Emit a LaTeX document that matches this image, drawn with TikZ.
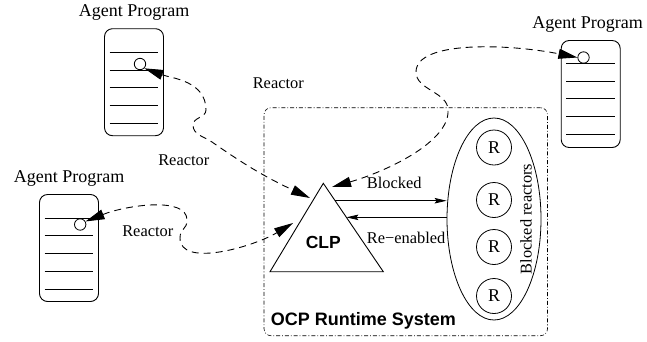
\documentclass[tikz,border=0pt]{standalone}
\usepackage{fontspec}
\setmainfont{Liberation Serif}
\setsansfont{Liberation Sans}
\usetikzlibrary{arrows.meta,shapes.geometric,calc}

\begin{document}
\begin{tikzpicture}[x=1pt,y=1pt,
  agentbox/.style={draw, line width=0.9pt, rounded corners=8pt,
    minimum width=59pt, minimum height=107pt, inner sep=0pt},
  slot/.style={line width=0.8pt},
  hole/.style={circle, draw, line width=0.8pt, minimum size=11.4pt, inner sep=0pt},
  lbl/.style={inner sep=0pt, anchor=base, font=\fontsize{16.4}{18}\selectfont},
  agentname/.style={inner sep=0pt, anchor=base, font=\fontsize{18}{20}\selectfont},
  boldsans/.style={inner sep=0pt, anchor=base, font=\sffamily\bfseries\fontsize{18}{20}\selectfont},
  reactor/.style={circle, draw, line width=0.8pt, minimum size=35pt, inner sep=0pt,
    font=\fontsize{18}{20}\selectfont},
  link/.style={line width=0.9pt, dash pattern=on 7pt off 5pt,
    {Triangle[length=19pt,width=10pt]}-{Triangle[length=19pt,width=10pt]}},
  flow/.style={line width=0.8pt, -{Stealth[length=12pt,width=5.5pt,inset=2pt]}},
  runtime/.style={draw, line width=0.6pt, rounded corners=7pt,
    dash pattern=on 4pt off 2pt on 0.8pt off 2pt, inner sep=0pt}
]
\useasboundingbox (0,0) rectangle (647,-341);

% --- runtime system frame ---
\node[runtime, minimum width=283.5pt, minimum height=228pt] (ocp) at (405.75,-221.7) {};
\node[boldsans, anchor=base west] (ocpname) at (270.7,-325) {OCP Runtime System};

% --- constraint logic program (triangle) ---
\coordinate (tA) at (323.3,-183.3);
\coordinate (tL) at (270,-271.7);
\coordinate (tR) at (383.3,-271.7);
\draw[line width=0.9pt] (tA) -- (tR) -- (tL) -- cycle;
\node[boldsans, font=\sffamily\bfseries\fontsize{17.5}{20}\selectfont] (clp) at (323.3,-248.3) {CLP};

% --- pool of blocked reactors ---
\node[draw, ellipse, line width=0.8pt, minimum width=94pt, minimum height=202pt,
  inner sep=0pt] (pool) at (494,-219) {};
\node[reactor] (r1) at (494,-147.5) {R};
\node[reactor] (r2) at (494,-200) {R};
\node[reactor] (r3) at (494,-247) {R};
\node[reactor] (r4) at (494,-296) {R};
\node[lbl, anchor=center, rotate=90] (poolname) at (526,-219) {Blocked reactors};

% --- blocking and re-enabling ---
\coordinate (outB) at ($(tA)!0.197!(tR)$);
\coordinate (inR) at ($(tA)!0.385!(tR)$);
\draw[flow] (outB) -- (outB -| pool.west);
\draw[flow] (inR -| pool.west) -- (inR);
\node[lbl] (blk) at (394.2,-188.3) {Blocked};
\node[lbl, anchor=base west] (ren) at (366.7,-243) {Re−enabled};

% --- agent programs ---
\node[agentname] (n1) at (134.2,-16.5) {Agent Program};
\node[agentbox] (a1) at (134,-82.2) {};
\foreach \d in {24,41.75,59.5,77.25,95}
  \draw[slot] ([xshift=5.5pt,yshift=-\d pt]a1.north west) -- ([xshift=-5.5pt,yshift=-\d pt]a1.north east);
\node[hole] (h1) at (140,-64) {};

\node[agentname] (n2) at (69.2,-182.7) {Agent Program};
\node[agentbox] (a2) at (69,-248) {};
\foreach \d in {24,41.75,59.5,77.25,95}
  \draw[slot] ([xshift=5.5pt,yshift=-\d pt]a2.north west) -- ([xshift=-5.5pt,yshift=-\d pt]a2.north east);
\node[hole] (h2) at (80.2,-224.5) {};

\node[agentname] (n3) at (587.5,-28.5) {Agent Program};
\node[agentbox] (a3) at (590.7,-94) {};
\foreach \d in {23.3,41,58.6,76.6,94.3}
  \draw[slot] ([xshift=5.5pt,yshift=-\d pt]a3.north west) -- ([xshift=-5.5pt,yshift=-\d pt]a3.north east);
\node[hole] (h3) at (583.5,-57.5) {};

% --- reactor links between agents and the CLP ---
\coordinate (inA) at (310,-198);
\coordinate (inB) at (332,-187);
\coordinate (inC) at (293,-223);

\draw[link] (h1.-45) to[out=-20,in=90] (206,-110)
  .. controls +(0,-7.75) and +(0,7.75) .. (193,-125)
  .. controls +(0,-10) and +(-8.2,5.7) .. (212,-142)
  to[out=-35,in=155] (inA);

\draw[link] (inB) .. controls +(53,15) and +(2,-32) .. (448,-110)
  .. controls +(0,18) and +(0,-18) .. (416,-72)
  .. controls +(0,32) and +(-67.8,13.5) .. (h3.west);

\draw[link] (h2.30) .. controls +(40,16) and +(0,24) .. (187,-220)
  .. controls +(0,-10) and +(0,10) .. (180,-238)
  .. controls +(0,-30) and +(-40,-24) .. (inC);

\node[lbl] (rx1) at (278.3,-88) {Reactor};
\node[lbl] (rx2) at (183.8,-165) {Reactor};
\node[lbl] (rx3) at (147.8,-236.7) {Reactor};
\end{tikzpicture}
\end{document}
